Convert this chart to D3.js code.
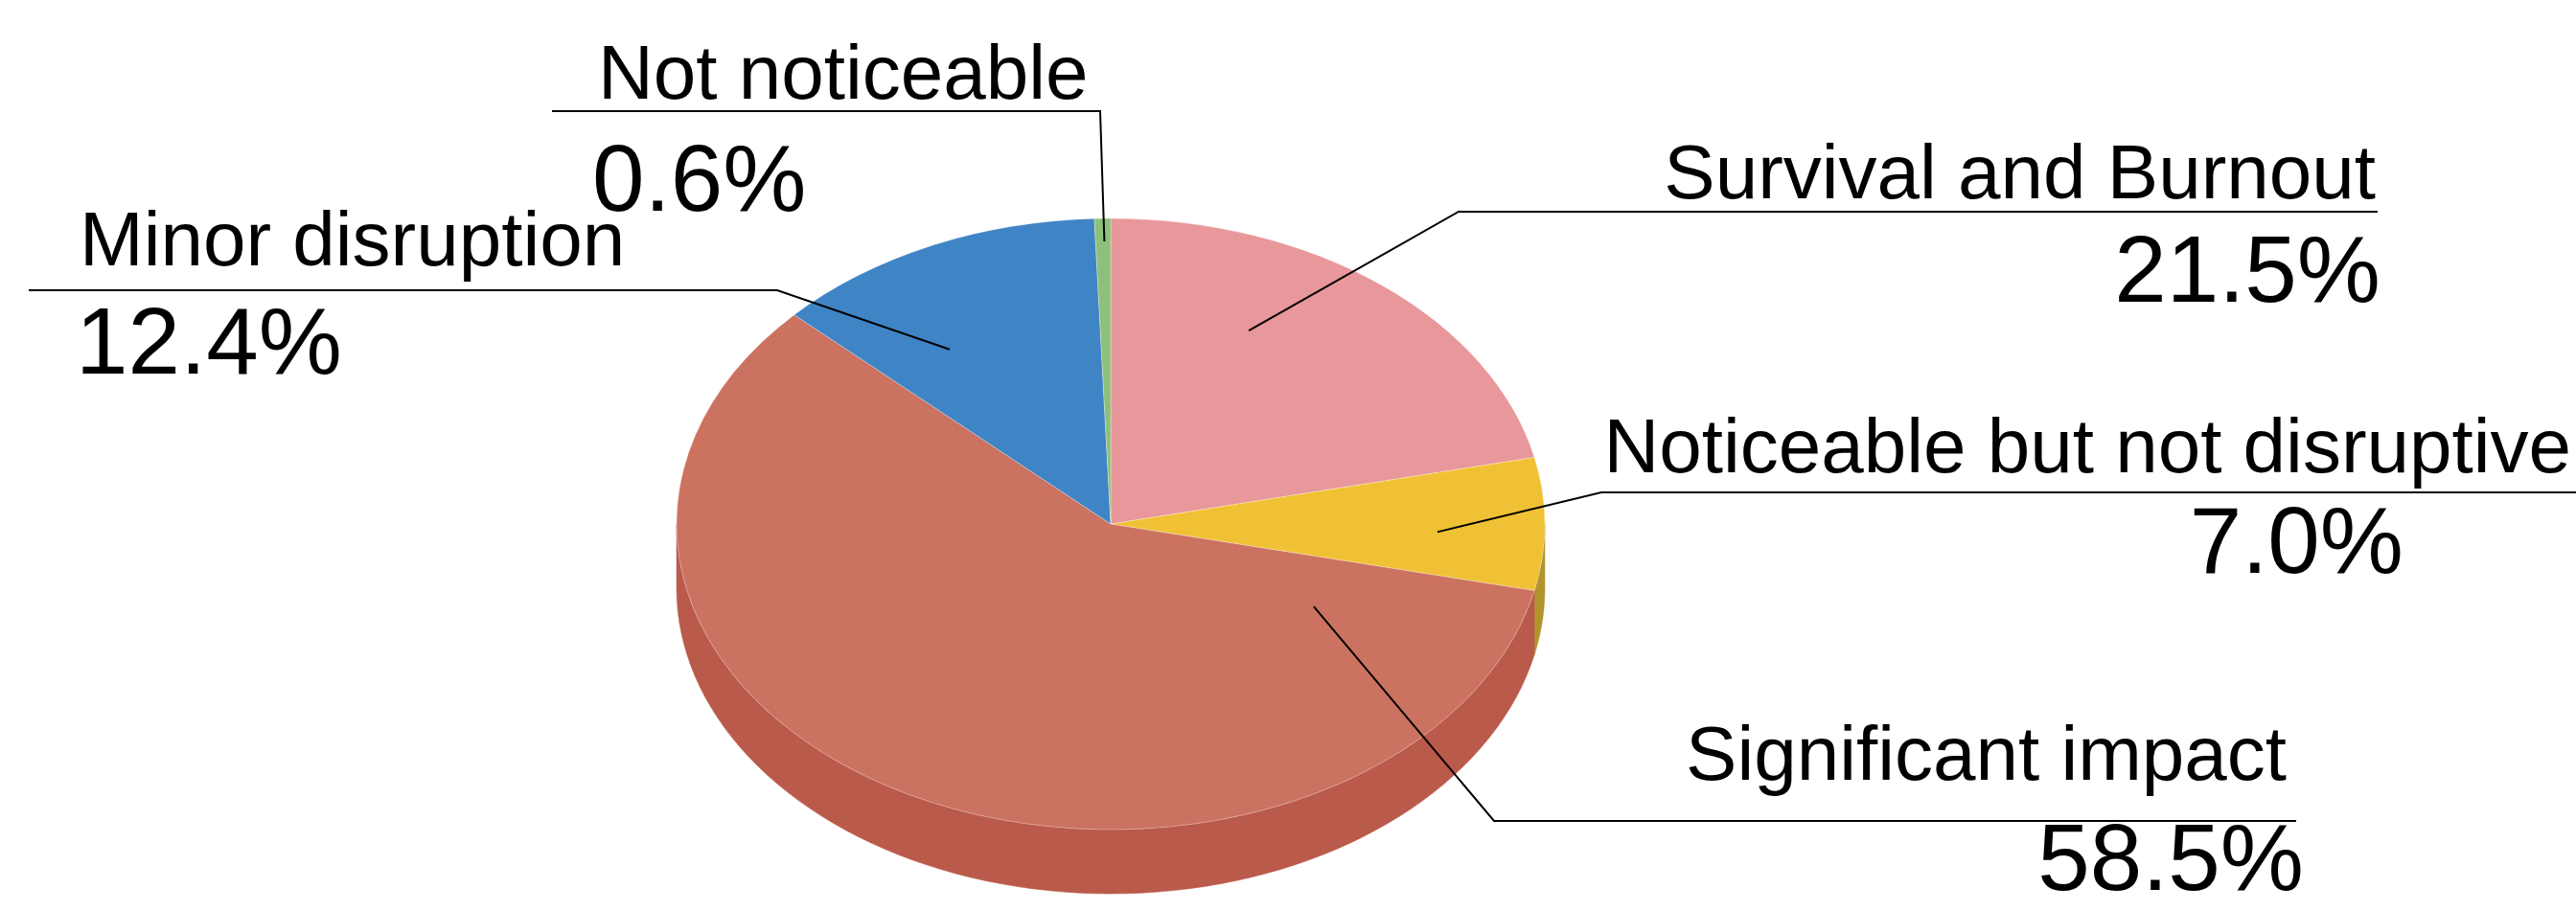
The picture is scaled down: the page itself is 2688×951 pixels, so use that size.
<!DOCTYPE html>
<html><head><meta charset="utf-8">
<script src="https://cdn.jsdelivr.net/npm/d3@7"></script>
<style>html,body{margin:0;padding:0;background:#fff;}svg{display:block;}</style>
</head><body>
<script>
// ---- data ----
const categories = ["Survival and Burnout","Noticeable but not disruptive","Significant impact","Minor disruption","Not noticeable"];
const values = [21.5, 7.0, 58.5, 12.4, 0.6];
const topColors = ["#E8979A","#F0C134","#CC7260","#3F84C5","#8DC07A"];
const sideColors = ["#C47E80","#B3932B","#BA5A4A","#2F6AA3","#6E9A5E"];

// ---- layout (label placement) ----
// anchor: angle (deg, clockwise from top) and radius fraction on the top face
const anchorAngle = [26.7, 92, 120, 327, 359.1];
const anchorRadius = [0.708, 0.753, 0.54, 0.681, 0.925];
const elbowX = [1522, 1671, 1559, 811, 1148];
const elbowY = [221, 514, 857, 303, 116];
const lineEndX = [2481, 2688, 2396, 30, 576];
const nameX = [2479, 2683, 2386, 83, 624];
const nameY = [207, 493, 814, 277, 103];
const pctX = [2484, 2508, 2404, 79, 618];
const pctY = [315, 598, 929, 390, 220];
const align = ["end","end","end","start","start"];

const W = 2688, H = 951;
const cx = 1159, cy = 547, rx = 453, ry = 319, depth = 67;

const svg = d3.select("body").append("svg").attr("width", W).attr("height", H);

const pie = d3.pie().sort(null).value(d => d).startAngle(0).endAngle(2*Math.PI);
const arcs = pie(values);

function pt(a, r = 1) { return [cx + rx * r * Math.sin(a), cy - ry * r * Math.cos(a)]; }

// sides (front half: angles between PI/2 and 3PI/2)
const sideG = svg.append("g");
arcs.forEach((d, i) => {
  const a0 = Math.max(d.startAngle, Math.PI/2), a1 = Math.min(d.endAngle, 3*Math.PI/2);
  if (a1 <= a0) return;
  const n = 80, top = [], bot = [];
  for (let k = 0; k <= n; k++) {
    const a = a0 + (a1 - a0) * k / n;
    const p = pt(a);
    top.push(p); bot.push([p[0], p[1] + depth]);
  }
  const poly = top.concat(bot.reverse());
  sideG.append("path").attr("d", d3.line()(poly) + "Z").attr("fill", sideColors[i]).attr("stroke", sideColors[i]).attr("stroke-width", 0.5);
});

// top faces
const arc = d3.arc().innerRadius(0).outerRadius(rx);
svg.append("g").attr("transform", `translate(${cx},${cy}) scale(1,${ry/rx})`)
  .selectAll("path").data(arcs).join("path")
  .attr("d", arc).attr("fill", (d, i) => topColors[i])
  .attr("stroke", "rgba(255,255,255,0.35)").attr("stroke-width", 1);

// leader lines and labels
const fmt = d3.format(".1f");
const lab = svg.append("g");
arcs.forEach((d, i) => {
  const p = pt(anchorAngle[i] * Math.PI / 180, anchorRadius[i]);
  lab.append("path")
    .attr("d", d3.line()([p, [elbowX[i], elbowY[i]], [lineEndX[i], elbowY[i]]]))
    .attr("fill", "none").attr("stroke", "#000").attr("stroke-width", 2);
  lab.append("text").attr("x", nameX[i]).attr("y", nameY[i]).attr("text-anchor", align[i])
    .attr("font-family", "Liberation Sans, Arial, sans-serif").attr("font-size", 80).attr("fill", "#000")
    .text(categories[i]);
  lab.append("text").attr("x", pctX[i]).attr("y", pctY[i]).attr("text-anchor", align[i])
    .attr("font-family", "Liberation Sans, Arial, sans-serif").attr("font-size", 98).attr("fill", "#000")
    .text(fmt(values[i]) + "%");
});
</script>
</body></html>
